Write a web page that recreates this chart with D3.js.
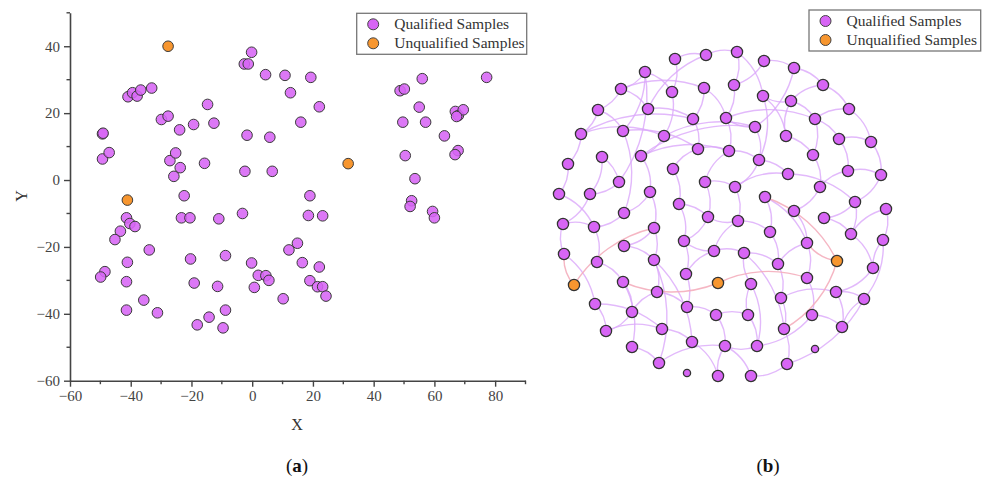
<!DOCTYPE html>
<head>
	<meta charset="utf-8">
	<script src="https://d3js.org/d3.v7.min.js"></script>
	<style>
		body { margin: 0; background: #fff; }
		text { font-family: "Liberation Serif", "Times New Roman", serif; }
	</style>
</head>
<body>
	<svg id="fig" width="990" height="479"></svg>
	<script>

	// ---- panel (a) data: t-SNE style scatter ----
	var qualX = [-0.2, -2.6, -1.3, 4.4, 10.8, 12.6, 19.3, 22.1, 16.0,
		-40.9, -39.4, -37.9, -36.7, -33.1, -29.9, -27.7, -23.9, -19.3, -14.7, -12.6,
		-49.3, -49.1, -49.3, -47.1, -27.1, -25.2, -23.7, -25.8, -15.7, -1.7, 5.8, -2.4, 6.6, -22.4,
		19.0, 56.0, 77.2, 48.7, 50.1, 55.0, 49.6, 57.1, 66.9, 67.9, 69.5, 67.3, 63.3, 67.8, 66.8, 50.4, 53.6,
		52.5, 52.0, 59.4, 60.0, 18.5, 23.2, 14.9, 12.1, 16.5, 22.1, 19.0, 21.5, 23.2, 24.3, 10.2, -0.2, 2.0, 4.5, 5.5, 0.7,
		-41.4, -40.3, -38.6, -43.4, -45.2, -33.9, -41.1, -48.5, -49.9, -41.4, -35.7, -41.4, -31.2, -23.3, -20.5, -11.0, -3.2,
		-20.3, -8.8, -19.1, -11.4, -8.8, -14.2, -18.1, -9.6];
	var qualY = [38.2, 34.7, 34.7, 31.5, 31.3, 26.1, 30.7, 21.9, 17.3,
		24.9, 26.1, 25.1, 26.9, 27.5, 18.1, 19.1, 15.0, 16.6, 22.6, 17.0,
		13.8, 14.0, 6.3, 8.2, 5.8, 8.1, 3.7, 1.1, 5.0, 13.4, 12.8, 2.6, 2.6, -4.7,
		-4.7, 30.3, 30.7, 26.7, 27.2, 21.8, 17.3, 17.3, 20.5, 19.3, 21.0, 19.0, 13.2, 8.8, 7.6, 7.3, 0.4,
		-6.2, -7.9, -9.4, -11.3, -10.6, -10.7, -18.9, -20.9, -24.7, -26.0, -30.1, -31.9, -31.9, -34.7, -35.5, -24.8, -28.5, -28.6, -30.0, -32.1,
		-11.3, -13.0, -13.9, -15.3, -17.8, -20.9, -24.6, -27.4, -29.0, -30.4, -35.9, -38.9, -39.7, -11.3, -11.3, -11.6, -10.0,
		-23.6, -22.6, -30.8, -31.8, -38.9, -41.0, -43.3, -44.2];
	var unqualX = [-27.7, -41.1, 31.6];
	var unqualY = [40.0, -6.0, 4.9];

	var xTicks = [-60, -40, -20, 0, 20, 40, 60, 80];
	var yTicks = [-60, -40, -20, 0, 20, 40];
	var legendLabels = ["Qualified Samples", "Unqualified Samples"];

	// ---- panel (b) data: sample network (layout units) ----
	var nodeX = [135, 166, 105, 81, 132, 164, 58, 108, 153, 186, 41, 83, 124, 158, 189, 62, 101, 28, 133, 165,
		79, 19, 50, 110, 139, 168, 84, 23, 54, 114, 144, 84, 197, 224, 254, 194, 223, 251, 283, 309,
		215, 275, 246, 299, 331, 219, 273, 308, 341, 248, 195, 225, 280, 315, 346, 254, 284, 198, 230, 311,
		343, 267, 24, 57, 114, 174, 34, 83, 117, 146, 178, 55, 92, 147, 176, 66, 122, 152, 185, 92,
		119, 147, 178, 204, 238, 297, 333, 211, 267, 241, 296, 324, 208, 272, 244, 302, 217, 275, 247, 211];
	var nodeY = [19, 15, 32, 49, 52, 48, 70, 69, 79, 78, 94, 91, 96, 109, 111, 117, 116, 124, 129, 142,
		142, 154, 154, 152, 164, 177, 173, 184, 187, 188, 201, 206, 12, 21, 28, 45, 56, 61, 45, 69,
		87, 79, 96, 99, 102, 120, 115, 131, 135, 134, 147, 157, 147, 162, 169, 171, 178, 181, 192, 194,
		200, 203, 214, 222, 220, 211, 245, 242, 252, 234, 243, 264, 272, 267, 275, 291, 289, 302, 306, 307,
		323, 333, 336, 213, 224, 221, 228, 244, 238, 258, 252, 259, 275, 275, 289, 287, 306, 309, 324, 336];
	var unqualNodes = [66, 70, 85];
	var smallNodes = [81, 97];

	var edges = [[2,4],[0,4],[2,3],[2,11],[3,5],[7,1],[7,8],[6,11],[10,12],[11,13],[8,13],[13,14],
		[15,22],[17,21],[21,28],[20,22],[16,14],[18,24],[18,13],[23,26],[24,30],[26,28],[11,26],[24,25],
		[19,25],[0,1],[1,32],[5,8],[4,12],[6,10],[10,17],[12,16],[15,20],[16,23],[19,14],[25,30],[27,28],
		[29,31],[23,29],[22,27],[3,6],[5,9],[9,14],[12,40],[3,7],[10,8],[2,20],[16,40],
		[32,36],[33,35],[34,40],[37,38],[37,36],[37,41],[41,39],[41,43],[41,46],[43,47],[44,48],[47,48],
		[39,44],[42,37],[40,45],[40,9],[9,41],[49,53],[50,49],[52,55],[53,56],[53,59],[54,60],[57,58],
		[59,54],[45,49],[46,52],[48,53],[33,34],[32,35],[35,9],[38,39],[42,46],[45,50],[50,57],[51,58],
		[55,61],[56,59],[52,47],[14,45],[57,25],[19,50],[36,42],[43,44],[34,38],[36,45],[51,61],
		[62,71],[28,63],[67,79],[67,72],[64,80],[68,73],[72,75],[71,76],[75,76],[76,77],[77,82],[80,78],
		[73,74],[69,73],[65,30],[74,78],[82,78],[62,27],[63,67],[64,68],[31,64],[69,65],[71,75],[79,80],
		[72,68],[29,64],[30,69],[65,57],[64,77],
		[84,89],[89,90],[90,91],[90,95],[91,98],[86,90],[86,60],[93,95],[93,96],[92,96],[92,87],[96,78],
		[78,99],[89,94],[83,94],[87,83],[84,61],[88,93],[98,99],[94,98],[65,83],[83,84],[60,91],[59,86],
		[61,88],[74,92],[95,91],[58,84],[87,96]];
	var redEdges = [[66,62],[66,29],[70,67],[70,88],[85,61],[85,94],[51,85]];

	var purple = "#d765f5", orange = "#f7962f";

	var svg = d3.select("#fig");

	// ================= panel (a) =================
	var x = d3.scaleLinear().domain([-60, 90]).range([70, 525.5]);
	var y = d3.scaleLinear().domain([-60, 50]).range([380.7, 12.8]);

	var ga = svg.append("g");

	function drawAxis(g, scale, major, minor, orient) {
		var a = orient === "bottom" ? d3.axisBottom(scale) : d3.axisLeft(scale);
		g.call(a.tickValues(major).tickSize(6).tickPadding(4).tickSizeOuter(0));
		g.select(".domain").attr("stroke", "#444").attr("stroke-width", 1.6);
		g.selectAll(".tick line").attr("stroke", "#444").attr("stroke-width", 1.4);
		g.selectAll(".tick text").attr("fill", "#444")
			.style("font-family", "Liberation Serif, serif").style("font-size", "15px");
		minor.forEach(function(v) {
			var p = scale(v);
			if (orient === "bottom") g.append("line").attr("x1", p).attr("x2", p).attr("y1", 0).attr("y2", 3.5);
			else g.append("line").attr("y1", p).attr("y2", p).attr("x1", 0).attr("x2", -3.5);
		});
		g.selectAll("line:not(.tick line)").attr("stroke", "#444").attr("stroke-width", 1.4);
	}

	drawAxis(ga.append("g").attr("transform", "translate(0,380.7)"), x, xTicks,
		[-50, -30, -10, 10, 30, 50, 70, 90], "bottom");
	drawAxis(ga.append("g").attr("transform", "translate(70,0)"), y, yTicks,
		[-50, -30, -10, 10, 30, 50], "left");

	ga.append("text").attr("x", 297).attr("y", 430).attr("text-anchor", "middle")
		.attr("fill", "#333").style("font-size", "16px").text("X");
	ga.append("text").attr("transform", "translate(27,196) rotate(-90)").attr("text-anchor", "middle")
		.attr("fill", "#333").style("font-size", "16px").text("Y");

	ga.append("g").selectAll("circle").data(qualX).enter().append("circle")
		.attr("cx", function(d) { return x(d); })
		.attr("cy", function(d, i) { return y(qualY[i]); })
		.attr("r", 5.3)
		.attr("fill", purple).attr("fill-opacity", 0.88)
		.attr("stroke", "#3a3a3a").attr("stroke-width", 1);

	ga.append("g").selectAll("circle").data(unqualX).enter().append("circle")
		.attr("cx", function(d) { return x(d); })
		.attr("cy", function(d, i) { return y(unqualY[i]); })
		.attr("r", 5.3)
		.attr("fill", orange)
		.attr("stroke", "#3a3a3a").attr("stroke-width", 1);

	function legend(g, x0, y0, w) {
		g.append("rect").attr("x", x0).attr("y", y0).attr("width", w).attr("height", 41)
			.attr("fill", "#fff").attr("stroke", "#777").attr("stroke-width", 1.3);
		[purple, orange].forEach(function(c, i) {
			g.append("circle").attr("cx", x0 + 16.5).attr("cy", y0 + 11 + i * 19).attr("r", 5.5)
				.attr("fill", c).attr("stroke", "#444").attr("stroke-width", 1);
			g.append("text").attr("x", x0 + 37.5).attr("y", y0 + 16 + i * 19)
				.attr("fill", "#333").style("font-size", "15.5px").text(legendLabels[i]);
		});
	}
	legend(ga, 356.7, 13.3, 170);

	// ================= panel (b) =================
	var bx = d3.scaleLinear().domain([0, 360]).range([540, 900]);
	var by = d3.scaleLinear().domain([0, 360]).range([40, 400]);

	var gb = svg.append("g");

	function arcPath(e) {
		var x1 = bx(nodeX[e[0]]), y1 = by(nodeY[e[0]]),
			x2 = bx(nodeX[e[1]]), y2 = by(nodeY[e[1]]);
		var dr = Math.hypot(x2 - x1, y2 - y1) * 1.3;
		return "M" + x1 + "," + y1 + "A" + dr + "," + dr + " 0 0,1 " + x2 + "," + y2;
	}

	gb.append("g").selectAll("path").data(edges).enter().append("path")
		.attr("d", arcPath).attr("fill", "none")
		.attr("stroke", "#dba8fa").attr("stroke-opacity", 0.8).attr("stroke-width", 1.4);
	gb.append("g").selectAll("path").data(redEdges).enter().append("path")
		.attr("d", arcPath).attr("fill", "none")
		.attr("stroke", "#f4aebd").attr("stroke-opacity", 0.9).attr("stroke-width", 1.4);

	gb.append("g").selectAll("circle").data(nodeX).enter().append("circle")
		.attr("cx", function(d) { return bx(d); })
		.attr("cy", function(d, i) { return by(nodeY[i]); })
		.attr("r", function(d, i) { return smallNodes.indexOf(i) >= 0 ? 3.6 : 5.6; })
		.attr("fill", function(d, i) { return unqualNodes.indexOf(i) >= 0 ? orange : purple; })
		.attr("stroke", "#333").attr("stroke-width", 1.3);

	legend(gb, 809, 10, 171.7);

	// captions
	[["a", 297], ["b", 768]].forEach(function(c) {
		var t = svg.append("text").attr("x", c[1]).attr("y", 472).attr("text-anchor", "middle")
			.attr("fill", "#111").style("font-size", "19px");
		t.append("tspan").text("(");
		t.append("tspan").attr("font-weight", "bold").text(c[0]);
		t.append("tspan").text(")");
	});

</script>
</body>
</html>
